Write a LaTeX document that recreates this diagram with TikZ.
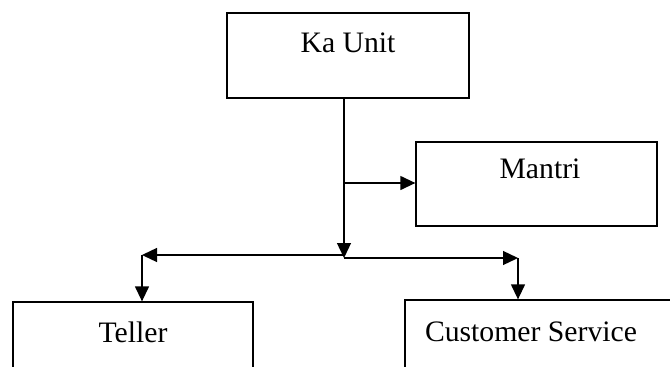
\documentclass[tikz,border=0pt]{standalone}
\usepackage{fontspec}
\setmainfont{Liberation Serif}
\usetikzlibrary{arrows.meta}
\begin{document}
\begin{tikzpicture}[x=1pt,y=-1pt,
  unitbox/.style={draw=black,line width=1.3pt,rectangle,inner sep=0pt,fill=white},
  lbl/.style={anchor=base,inner sep=0pt,font=\fontsize{29.7}{34}\selectfont},
  link/.style={line width=1.3pt,-{Triangle[length=15pt,width=14pt]}}]
\useasboundingbox (0,0) rectangle (670,367);
\clip (0,0) rectangle (670,367);
\fill[white] (0,0) rectangle (670,367);

% boxes
\node[unitbox,minimum width=242pt,minimum height=85pt] (ka) at (348,55.5) {};
\node[unitbox,minimum width=241pt,minimum height=84pt] (mantri) at (536.5,184) {};
\node[unitbox,minimum width=240pt,minimum height=120pt] (teller) at (133,362) {};
\node[unitbox,minimum width=280pt,minimum height=120pt] (cs) at (545,360) {};

% labels
\node[lbl] (tka) at (348,52) {Ka Unit};
\node[lbl] (tmantri) at (540,178) {Mantri};
\node[lbl] (tteller) at (133,342) {Teller};
\node[lbl] (tcs) at (531,341) {Customer Service};

% junction points
\coordinate (kb) at (344,98);
\coordinate (jm) at (344,183);
\coordinate (j) at (344,258);
\coordinate (jl) at (344,255);
\coordinate (cl) at (142,255);
\coordinate (cr) at (518,258);

% connectors
\draw[link] (kb) -- (j);
\draw[link] (jm) -- (mantri.west |- jm);
\draw[link] (jl) -- (cl);
\draw[link] (cl) -- (cl |- teller.north);
\draw[link] (j) -- (cr);
\draw[link] (cr) -- (cr |- cs.north);
\end{tikzpicture}
\end{document}
